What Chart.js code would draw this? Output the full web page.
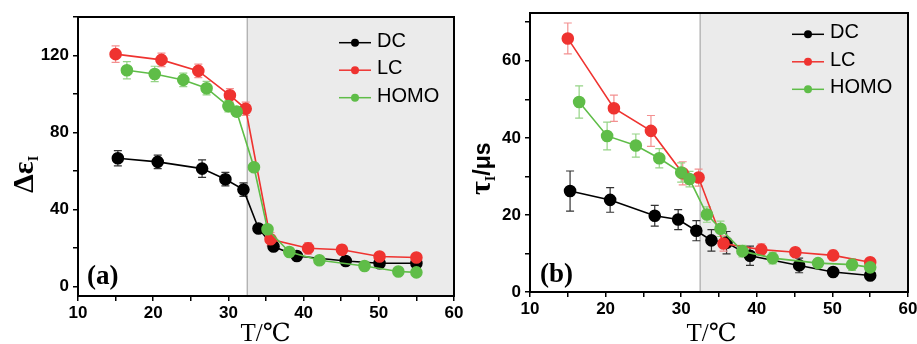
<!DOCTYPE html>
<html>
<head>
<meta charset="utf-8">
<script src="https://cdn.jsdelivr.net/npm/chart.js@4.4.1/dist/chart.umd.min.js"></script>
<style>
  html, body { margin: 0; padding: 0; background: #fff; }
  #wrap { position: relative; width: 917px; height: 344px; overflow: hidden; }
  canvas { position: absolute; top: 0; }
  #ca { left: 0; }
  #cb { left: 452px; }
</style>
</head>
<body>
<div id="wrap">
  <canvas id="ca" width="470" height="344"></canvas>
  <canvas id="cb" width="465" height="344"></canvas>
</div>
<script>
// temperatures, T / °C
let tDC = [15.3, 20.6, 26.5, 29.6, 32.0, 34.0, 36.0, 39.1, 45.6, 50.1, 55.0];
let tLC = [15.0, 21.1, 26.0, 30.2, 32.3, 35.6, 40.6, 45.1, 50.1, 55.0];
let tHOMO = [16.5, 20.2, 24.0, 27.1, 30.0, 31.1, 33.4, 35.2, 38.1, 42.1, 48.1, 52.6, 55.0];

// (a) dielectric increment
let epsDC = [66.6, 64.7, 61.2, 55.7, 50.3, 30.1, 20.7, 15.8, 13.2, 12.0, 12.0];
let epsDCErr = [4, 3.5, 4.5, 3.5, 3.5, 1.5, 1.5, 1, 1, 1, 1];
let epsLC = [120.7, 117.7, 112.0, 99.3, 92.3, 24.5, 19.8, 19.0, 15.5, 15.0];
let epsLCErr = [4.3, 3.5, 3.5, 3.5, 3.5, 3.5, 3, 2.5, 2, 1.5];
let epsHOMO = [112.3, 110.4, 107.3, 103.0, 93.7, 90.8, 61.9, 29.7, 17.9, 13.6, 10.6, 7.7, 7.3];
let epsHOMOErr = [4.5, 4, 3.5, 3.5, 3, 2.5, 1, 1, 1, 1, 1, 1, 1];

// (b) relaxation time, us
let tauDC = [26.2, 23.9, 19.8, 18.8, 15.9, 13.4, 12.8, 9.4, 6.9, 5.2, 4.3];
let tauDCErr = [5.2, 3.2, 2.7, 2.6, 2.6, 2.8, 2.9, 2.5, 1.9, 0.5, 0.5];
let tauLC = [65.8, 47.7, 41.8, 30.8, 29.7, 12.6, 11.0, 10.3, 9.5, 7.7];
let tauLCErr = [4, 3.4, 4, 3, 2.2, 2, 1.5, 1, 1.3, 0.7];
let tauHOMO = [49.3, 40.5, 38.0, 34.7, 31.0, 29.3, 20.1, 16.4, 10.6, 8.8, 7.5, 7.1, 6.4];
let tauHOMOErr = [4.2, 3.6, 3, 2.5, 2.5, 2, 2, 2, 1.5, 1.5, 0.8, 1.5, 1];

// ticks
let xTicks = [10, 15, 20, 25, 30, 35, 40, 45, 50, 55, 60];
let xLabels = [10, 20, 30, 40, 50, 60];
let yTicksA = [0, 20, 40, 60, 80, 100, 120, 140];
let yLabelsA = [0, 40, 80, 120];
let yTicksB = [0, 10, 20, 30, 40, 50, 60, 70];
let yLabelsB = [0, 20, 40, 60];

let transitionT = 32.5;
let seriesNames = ['DC', 'LC', 'HOMO'];
let colors = ['#000000', '#ef3330', '#5fbd48'];
let errColors = ['#333333', '#f39090', '#95d486'];

function pts(xs, ys) {
  return xs.map((x, i) => ({ x: x, y: ys[i] }));
}

let tickFont = { family: '"Liberation Sans", Arial, sans-serif', size: 17, weight: 'bold' };

let decor = {
  id: 'decor',
  beforeDatasetsDraw(chart, args, o) {
    let ctx = chart.ctx, a = chart.chartArea;
    let xs = chart.scales.x, ys = chart.scales.y;
    let xt = xs.getPixelForValue(transitionT);
    ctx.save();
    ctx.fillStyle = '#ebebeb';
    ctx.fillRect(xt, a.top, a.right - xt, a.bottom - a.top);
    ctx.strokeStyle = '#999';
    ctx.lineWidth = 1;
    ctx.beginPath();
    ctx.moveTo(xt, a.top);
    ctx.lineTo(xt, a.bottom);
    ctx.stroke();
    // error bars
    chart.data.datasets.forEach((ds, k) => {
      ctx.strokeStyle = ds.errColor;
      ctx.lineWidth = 1.2;
      ds.errors.forEach((e, i) => {
        let p = ds.data[i];
        let x = xs.getPixelForValue(p.x);
        let y1 = ys.getPixelForValue(p.y + e);
        let y2 = ys.getPixelForValue(p.y - e);
        ctx.beginPath();
        ctx.moveTo(x, y1); ctx.lineTo(x, y2);
        ctx.moveTo(x - 4, y1); ctx.lineTo(x + 4, y1);
        ctx.moveTo(x - 4, y2); ctx.lineTo(x + 4, y2);
        ctx.stroke();
      });
    });
    ctx.restore();
  },
  afterDatasetsDraw(chart, args, o) {
    let ctx = chart.ctx, a = chart.chartArea;
    ctx.save();
    // frame
    ctx.strokeStyle = '#000';
    ctx.lineWidth = 2;
    ctx.strokeRect(a.left, a.top, a.right - a.left, a.bottom - a.top);

    // legend
    chart.data.datasets.forEach((ds, k) => {
      let y = o.legendY + k * o.legendGap;
      ctx.strokeStyle = ds.borderColor;
      ctx.fillStyle = ds.borderColor;
      ctx.lineWidth = 1.5;
      ctx.beginPath();
      ctx.moveTo(o.legendX, y);
      ctx.lineTo(o.legendX + 32, y);
      ctx.stroke();
      ctx.beginPath();
      ctx.arc(o.legendX + 16, y, 4, 0, Math.PI * 2);
      ctx.fill();
      ctx.fillStyle = '#000';
      ctx.font = '20px "Liberation Sans", Arial, sans-serif';
      ctx.textBaseline = 'alphabetic';
      ctx.textAlign = 'left';
      ctx.fillText(ds.label, o.legendX + 38, y + 4);
    });

    // panel tag
    ctx.fillStyle = '#000';
    ctx.font = 'bold 27px "Liberation Serif", serif';
    ctx.fillText(o.tag, o.tagX, o.tagY);

    // x title
    ctx.textAlign = 'center';
    ctx.font = '25px "Liberation Serif", "DejaVu Serif", "Noto Sans CJK SC", serif';
    ctx.fillText('T/℃', o.xTitleX, 341);

    // y title (rotated, with subscript)
    ctx.translate(o.yTitleX, o.yTitleY);
    ctx.rotate(-Math.PI / 2);
    ctx.textAlign = 'left';
    let cx = 0;
    o.yTitle.forEach(part => {
      ctx.font = part.font;
      ctx.fillText(part.text, cx, part.dy || 0);
      cx += ctx.measureText(part.text).width;
    });
    ctx.restore();
  }
};

function makeChart(id, sets, yMin, yMax, yTicks, yLabels, area, extra) {
  let datasets = sets.map((s, k) => ({
    label: seriesNames[k],
    data: s.data,
    errors: s.err,
    errColor: errColors[k],
    borderColor: colors[k],
    backgroundColor: colors[k],
    pointBackgroundColor: colors[k],
    pointBorderColor: colors[k],
    borderWidth: 1.6,
    pointRadius: 5.5,
    pointHoverRadius: 5.5,
    tension: 0,
    order: 3 - k
  }));
  let canvas = document.getElementById(id);
  return new Chart(canvas, {
    type: 'line',
    data: { datasets: datasets },
    plugins: [decor],
    options: {
      responsive: false,
      animation: false,
      layout: { padding: { top: area.top, right: canvas.width - area.right, left: 0, bottom: 0 } },
      plugins: {
        legend: { display: false },
        tooltip: { enabled: false },
        decor: extra
      },
      scales: {
        x: {
          type: 'linear',
          min: 10,
          max: 60,
          afterBuildTicks: s => { s.ticks = xTicks.map(v => ({ value: v })); },
          afterFit: s => { s.height = canvas.height - area.bottom; s.paddingLeft = 0; s.paddingRight = 0; },
          ticks: {
            callback: v => xLabels.includes(v) ? v : '',
            autoSkip: false,
            maxRotation: 0,
            color: '#000',
            font: tickFont,
            padding: 2
          },
          grid: { drawOnChartArea: false, tickLength: 5, color: '#000', lineWidth: 1.5 },
          border: { display: false }
        },
        y: {
          type: 'linear',
          min: yMin,
          max: yMax,
          afterBuildTicks: s => { s.ticks = yTicks.map(v => ({ value: v })); },
          afterFit: s => { s.width = area.left; s.paddingTop = 0; s.paddingBottom = 0; },
          ticks: {
            callback: v => yLabels.includes(v) ? v : '',
            autoSkip: false,
            color: '#000',
            font: tickFont,
            padding: 4
          },
          grid: { drawOnChartArea: false, tickLength: 5, color: '#000', lineWidth: 1.5 },
          border: { display: false }
        }
      }
    }
  });
}

makeChart('ca', [
  { data: pts(tDC, epsDC), err: epsDCErr },
  { data: pts(tLC, epsLC), err: epsLCErr },
  { data: pts(tHOMO, epsHOMO), err: epsHOMOErr }
], -5, 140, yTicksA, yLabelsA,
  { left: 78, right: 454, top: 17, bottom: 296 },
  {
    legendX: 339, legendY: 42.7, legendGap: 27.5,
    tag: '(a)', tagX: 87, tagY: 284,
    xTitleX: 265.5,
    yTitleX: 33, yTitleY: 193,
    yTitle: [
      { text: 'Δε', font: 'bold 30px "Liberation Serif", serif' },
      { text: 'I', font: 'bold 14px "Liberation Serif", serif', dy: 5 }
    ]
  });

makeChart('cb', [
  { data: pts(tDC, tauDC), err: tauDCErr },
  { data: pts(tLC, tauLC), err: tauLCErr },
  { data: pts(tHOMO, tauHOMO), err: tauHOMOErr }
], 0, 72.4, yTicksB, yLabelsB,
  { left: 78, right: 456, top: 13, bottom: 292 },
  {
    legendX: 340, legendY: 34.3, legendGap: 27.5,
    tag: '(b)', tagX: 88, tagY: 282,
    xTitleX: 259.5,
    yTitleX: 38, yTitleY: 195,
    yTitle: [
      { text: 'τ', font: 'bold 30px "Liberation Serif", serif' },
      { text: 'I', font: 'bold 14px "Liberation Serif", serif', dy: 5 },
      { text: '/μs', font: 'bold 23px "Liberation Sans", Arial, sans-serif' }
    ]
  });
</script>
</body>
</html>
